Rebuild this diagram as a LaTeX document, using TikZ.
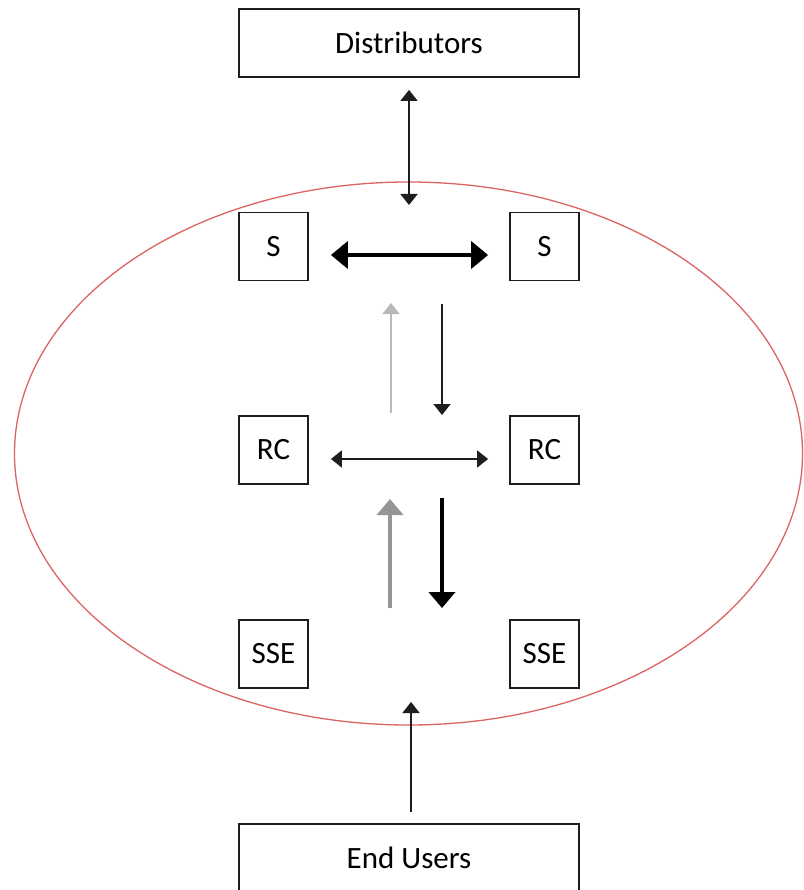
\documentclass[tikz,border=0pt]{standalone}
\usepackage{fontspec}
\setmainfont{Carlito}
\usetikzlibrary{arrows.meta}
\definecolor{ringred}{RGB}{220,100,100}
\definecolor{lightarrow}{RGB}{185,185,185}
\definecolor{midarrow}{RGB}{150,150,150}
\definecolor{boxline}{RGB}{30,30,30}
\begin{document}
\begin{tikzpicture}[x=1pt,y=-1pt,
  box/.style={draw=boxline, line width=1.8pt, inner sep=0pt,
    font=\fontsize{31}{36}\selectfont},
  widebox/.style={box, minimum width=340pt, minimum height=68pt},
  sqbox/.style={box, minimum width=69pt, minimum height=68pt},
  thinarrow/.style={line width=1.8pt, -{Triangle[length=11pt,width=17pt]}},
  thinboth/.style={line width=1.8pt, {Triangle[length=11pt,width=17pt]}-{Triangle[length=11pt,width=17pt]}},
  thickarrow/.style={line width=4.5pt, -{Triangle[length=16pt,width=26pt]}},
  thickboth/.style={line width=4pt, {Triangle[length=17pt,width=27pt]}-{Triangle[length=17pt,width=27pt]}},
]
\clip (0,0) rectangle (803,890);

% the red ring around the inner boxes
\draw[ringred, line width=1.3pt] (408.5,453.5) ellipse [x radius=394, y radius=271.5];

% outer boxes
\node[widebox] (dist) at (409,43) {Distributors};
\node[widebox] (eu) at (409,858) {End Users};

% inner boxes
\node[sqbox] (sL) at (273.5,246.5) {S};
\node[sqbox] (sR) at (544.5,246.5) {S};
\node[sqbox] (rcL) at (273.5,450) {RC};
\node[sqbox] (rcR) at (544.5,450) {RC};
\node[sqbox] (sseL) at (273.5,654) {SSE};
\node[sqbox] (sseR) at (544.5,654) {SSE};

% free ends of the arrows
\coordinate (distEnd) at (409,205);
\coordinate (euEnd) at (411,702);
\coordinate (upA0) at (391,413);
\coordinate (upA1) at (391,303);
\coordinate (dnA0) at (442,304);
\coordinate (dnA1) at (442,415);
\coordinate (upB0) at (390,608);
\coordinate (upB1) at (390,499);
\coordinate (dnB0) at (442,498);
\coordinate (dnB1) at (442,608);

% connectors
\draw[thinboth, draw=boxline] ([yshift=-12pt]dist.south) -- (distEnd);
\draw[thickboth, draw=black] ([xshift=22pt,yshift=-8.5pt]sL.east) -- ([xshift=-21pt,yshift=-8.5pt]sR.west);
\draw[thinboth, draw=boxline] ([xshift=22pt,yshift=-9pt]rcL.east) -- ([xshift=-21pt,yshift=-9pt]rcR.west);
\draw[thinarrow, draw=lightarrow, fill=lightarrow] (upA0) -- (upA1);
\draw[thinarrow, draw=boxline] (dnA0) -- (dnA1);
\draw[thickarrow, draw=midarrow, fill=midarrow] (upB0) -- (upB1);
\draw[thickarrow, draw=black] (dnB0) -- (dnB1);
\draw[thinarrow, draw=boxline] ([xshift=2pt,yshift=11pt]eu.north) -- (euEnd);
\end{tikzpicture}
\end{document}
